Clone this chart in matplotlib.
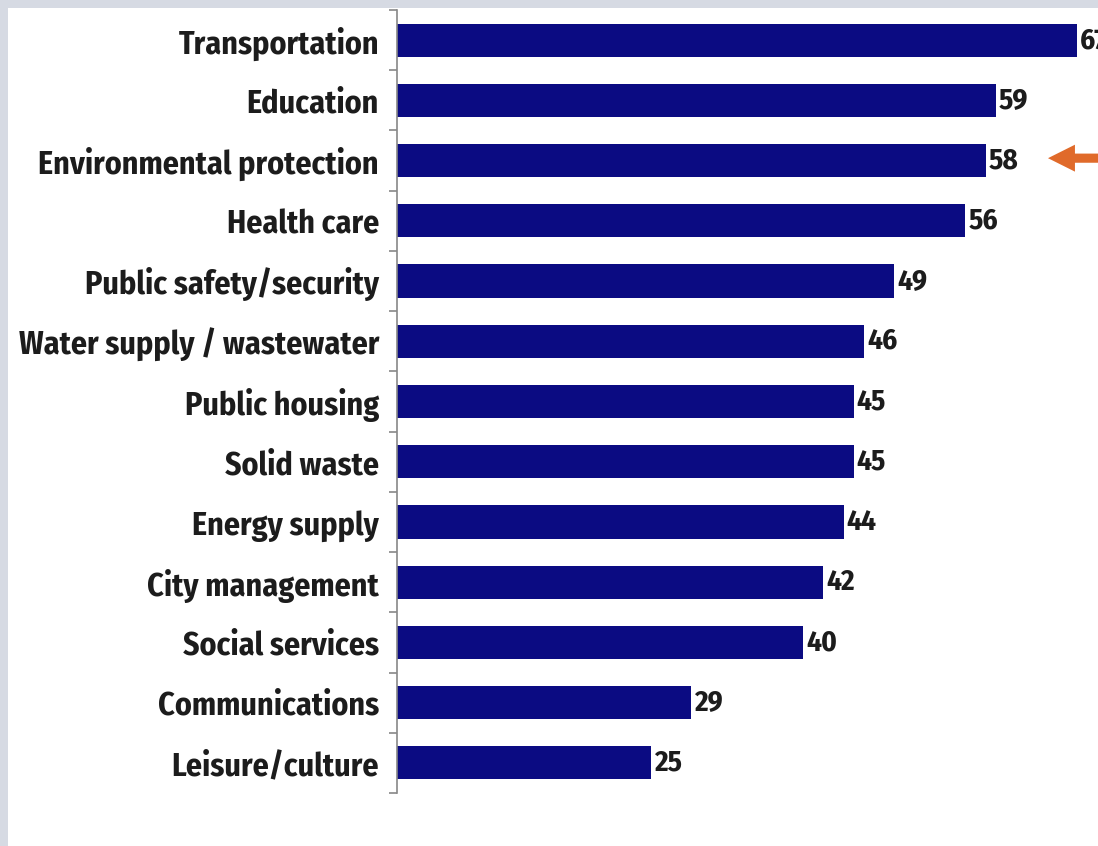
import matplotlib
matplotlib.use("Agg")
import matplotlib.pyplot as plt

categories = ["Transportation", "Education", "Environmental protection", "Health care",
              "Public safety/security", "Water supply / wastewater", "Public housing",
              "Solid waste", "Energy supply", "City management", "Social services",
              "Communications", "Leisure/culture"]
values = [67, 59, 58, 56, 49, 46, 45, 45, 44, 42, 40, 29, 25]
highlight = "Environmental protection"

FONT = ["Fira Sans Condensed", "DejaVu Sans"]
BAR = "#0b0b82"
TXT = "#1c1c1c"

fig = plt.figure(figsize=(10.98, 8.46), dpi=100)
fig.patch.set_facecolor("#d6dae3")
bg = fig.add_axes([8/1098, 0, 1 - 8/1098, 1 - 8/846], zorder=-5)
bg.set_facecolor("white")
bg.set_xticks([]); bg.set_yticks([])
for s in bg.spines.values():
    s.set_visible(False)

ax = fig.add_axes([397/1098, 53/846, 701/1098, 783/846])
ax.set_facecolor("none")
y = list(range(len(categories)))
ax.barh(y, values, height=0.55, color=BAR, zorder=2)
ax.set_ylim(len(categories) - 0.5, -0.5)
ax.set_xlim(0, 701/10.15)

for s in ["top", "right", "bottom"]:
    ax.spines[s].set_visible(False)
ax.spines["left"].set_color("#888888")
ax.spines["left"].set_linewidth(1.2)
ax.set_xticks([])
ax.set_yticks([i - 0.5 for i in range(len(categories) + 1)], minor=True)
ax.tick_params(axis="y", which="minor", length=6, color="#888888", width=1.2)
ax.set_yticks(y)
ax.set_yticklabels(categories, fontfamily=FONT, fontweight="bold", fontsize=23, color=TXT)
ax.tick_params(axis="y", which="major", length=0, pad=13)

for yi, v in zip(y, values):
    ax.text(v + 0.3, yi, str(v), va="center", ha="left", fontfamily=FONT,
            fontweight="bold", fontsize=21, color=TXT, clip_on=False)

hi = categories.index(highlight)
ax.annotate("", xy=(1048/1098, hi - 0.04), xycoords=("figure fraction", "data"),
            xytext=(1.0, hi - 0.04), textcoords=("figure fraction", "data"),
            arrowprops=dict(arrowstyle="simple,head_length=1.0,head_width=1.0,tail_width=0.34",
                            mutation_scale=19.4, color="#e06a2a", lw=0,
                            shrinkA=0, shrinkB=0),
            annotation_clip=False)
fig.savefig("out.png", dpi=100)
